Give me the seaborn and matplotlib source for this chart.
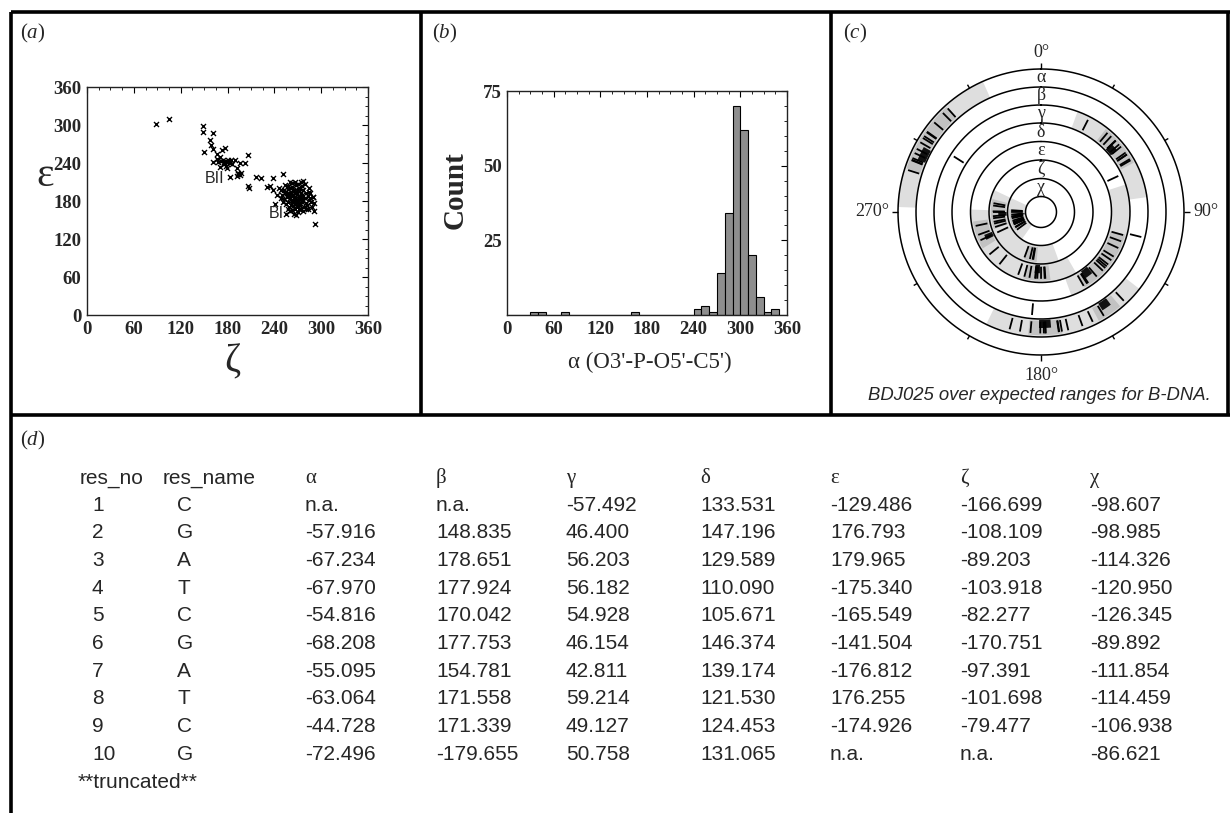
import numpy as np
import pandas as pd
import matplotlib
matplotlib.use("Agg")
import matplotlib.pyplot as plt
import seaborn as sns
from matplotlib.lines import Line2D
from matplotlib.ticker import MultipleLocator

# ---------------- data : panel (a)  epsilon vs zeta ----------------
zeta_vals = [88, 105.5, 149, 149, 161, 157, 158.5, 150, 162, 166, 172.5, 177, 170, 162, 168,
             174.5, 179, 183, 170, 179, 189.5, 196, 202, 206.5, 192, 194, 192, 183, 196, 216,
             222.5, 238.7, 251.5, 206, 208, 230, 234.5, 238.7, 243, 241, 260, 277, 290, 291,
             291, 292, 172, 176, 180, 167, 178, 186, 194, 197, 175, 184,
             262, 265, 268, 270, 272, 266, 260, 258, 275, 273, 269, 264, 261, 267, 271, 276,
             279, 281, 278, 274, 263, 259, 256, 254, 257, 263, 268, 272, 277, 280, 283, 284,
             282, 277, 270, 265, 260, 255, 252, 250, 253, 258, 262, 266, 270, 275, 285, 286,
             287, 280, 268, 271, 266, 264, 269, 273, 271, 267, 262, 276, 274, 259, 261, 257,
             249, 246, 248, 251, 255, 288, 284, 279, 274, 264, 258, 266, 272, 269, 276, 263,
             267, 260, 254, 283, 286, 290]
eps_vals = [302, 309.5, 299, 289, 288, 277, 268, 257, 262, 255, 260.5, 263, 250, 242, 242,
            245, 242, 239.5, 234, 231.5, 245, 239.5, 240.5, 252.5, 231.5, 224, 219.5, 218.5, 221, 218.5,
            216, 217, 222.5, 204, 200, 201.5, 204, 197.5, 189.5, 175.3, 210.5, 212, 186, 176.5,
            164.7, 143, 243, 238, 245, 246, 236, 238, 222, 224, 241, 244,
            190, 185, 182, 178, 186, 176, 184, 179, 181, 174, 170, 172, 195, 193, 196, 190,
            184, 177, 171, 167, 166, 171, 187, 193, 199, 202, 205, 200, 197, 192, 188, 181,
            173, 165, 163, 160, 164, 176, 183, 190, 197, 204, 208, 210, 207, 203, 194, 185,
            178, 168, 158, 168, 180, 188, 191, 188, 183, 186, 178, 178, 193, 189, 174, 168,
            198, 200, 185, 178, 160, 170, 200, 207, 210, 198, 193, 168, 175, 174, 185, 181,
            197, 200, 206, 167, 192, 186]

# ---------------- data : panel (b)  alpha histogram ----------------
alpha_bin_start = [30, 40, 70, 160, 240, 250, 260, 270, 280, 290, 300, 310, 320, 330, 340]
alpha_counts = [1, 1, 1, 1, 2, 3, 1, 14, 34, 70, 62, 20, 6, 1, 2]

# ---------------- data : panel (d)  torsion table ----------------
res_no = [1, 2, 3, 4, 5, 6, 7, 8, 9, 10]
res_name = ["C", "G", "A", "T", "C", "G", "A", "T", "C", "G"]
tor_alpha = [None, -57.916, -67.234, -67.970, -54.816, -68.208, -55.095, -63.064, -44.728, -72.496]
tor_beta = [None, 148.835, 178.651, 177.924, 170.042, 177.753, 154.781, 171.558, 171.339, -179.655]
tor_gamma = [-57.492, 46.400, 56.203, 56.182, 54.928, 46.154, 42.811, 59.214, 49.127, 50.758]
tor_delta = [133.531, 147.196, 129.589, 110.090, 105.671, 146.374, 139.174, 121.530, 124.453, 131.065]
tor_eps = [-129.486, 176.793, 179.965, -175.340, -165.549, -141.504, -176.812, 176.255, -174.926, None]
tor_zeta = [-166.699, -108.109, -89.203, -103.918, -82.277, -170.751, -97.391, -101.698, -79.477, None]
tor_chi = [-98.607, -98.985, -114.326, -120.950, -126.345, -89.892, -111.854, -114.459, -106.938, -86.621]

# ---------------- data : panel (c)  further residues read from the wheel ----------------
extra_alpha = [300, 310, 295, 318, 303]
extra_beta = [137, 185, 190, 195, 167, 160]
extra_gamma = [27, 185, 104, 40, 60]
extra_delta = [65, 115, 128, 150]
extra_eps = [250, 245, 258, 190, 200]
extra_zeta = [265, 270, 190, 200, 245]
extra_chi = [258, 265, 240, 250]
# expected ranges (degrees) : light, medium and core
range_light = {"α": [(272, 336)], "β": [(128, 206)], "γ": [(20, 82)], "δ": [(72, 160)],
               "ε": [(150, 272)], "ζ": [(160, 295)], "χ": [(215, 295)]}
range_mid = {"α": [(288, 318)], "β": [(140, 152), (170, 186)], "γ": [(38, 62)], "δ": [(105, 150)],
             "ε": [(172, 195), (238, 262)], "ζ": [(185, 200), (250, 285)], "χ": [(235, 275)]}
range_core = {"α": [(293, 299)], "β": [(143, 148), (175, 181)], "γ": [(46, 51)], "δ": [(140, 146)],
              "ε": [(181, 186), (243, 248)], "ζ": [(264, 270)], "χ": [(262, 266)]}

# ---------------- figure ----------------
sns.set_theme(style="white")
plt.rcParams["font.family"] = ["Liberation Serif", "DejaVu Sans"]
plt.rcParams["mathtext.fontset"] = "custom"
plt.rcParams["mathtext.rm"] = "Liberation Serif"
plt.rcParams["mathtext.it"] = "Liberation Serif:italic"

W, H = 1230, 813
fig = plt.figure(figsize=(W / 100, H / 100), dpi=100)
fig.patch.set_facecolor("white")


def box(l, t, r, b):
    return [l / W, 1 - b / H, (r - l) / W, (b - t) / H]


def ftext(x, y, s, **kw):
    fig.text(x / W, 1 - y / H, s, **kw)


def fline(x0, y0, x1, y1, lw=2.6):
    fig.add_artist(Line2D([x0 / W, x1 / W], [1 - y0 / H, 1 - y1 / H],
                          transform=fig.transFigure, color="black", lw=lw,
                          solid_capstyle="butt"))


def style_box(ax):
    for sp in ax.spines.values():
        sp.set_visible(True)
        sp.set_color("#222222")
        sp.set_linewidth(1.0)
    ax.tick_params(which="both", direction="in", top=True, right=True, color="black")
    ax.tick_params(which="major", length=4, width=0.8, pad=4)
    ax.tick_params(which="minor", length=2, width=0.6)
    plt.setp(ax.get_xticklabels(), family="Liberation Serif", weight="bold", size=13.5)
    plt.setp(ax.get_yticklabels(), family="Liberation Serif", weight="bold", size=13.5)
    ax.set_xlabel("")
    ax.set_ylabel("")


# ---- panel (a)
axa = fig.add_axes(box(87, 87, 368, 315))
df_a = pd.DataFrame({"zeta": zeta_vals, "eps": eps_vals})
sns.scatterplot(data=df_a, x="zeta", y="eps", marker="x", color="black", s=13,
                linewidth=1.0, ax=axa)
axa.set_xlim(0, 360)
axa.set_ylim(0, 360)
axa.set_xticks(range(0, 361, 60))
axa.set_yticks(range(0, 361, 60))
axa.xaxis.set_minor_locator(MultipleLocator(15))
axa.yaxis.set_minor_locator(MultipleLocator(15))
style_box(axa)
axa.text(164, 216, "BII", family="Liberation Sans", fontsize=11.5, ha="center", va="center")
axa.text(243, 160, "BI", family="Liberation Sans", fontsize=11.5, ha="center", va="center")
ftext(45, 176, "ε", fontsize=30, ha="center", va="center", family="Liberation Serif")
ftext(232, 362, "ζ", fontsize=28, ha="center", va="center", family="Liberation Serif")

# ---- panel (b)
axb = fig.add_axes(box(507, 91, 787, 315))
alpha_obs = np.repeat(np.array(alpha_bin_start, dtype=float) + 5, alpha_counts)
sns.histplot(x=alpha_obs, binwidth=10, binrange=(0, 360), color="#8e8e8e",
             edgecolor="black", linewidth=0.8, alpha=1.0, ax=axb)
axb.set_xlim(0, 360)
axb.set_ylim(0, 75)
axb.set_xticks(range(0, 361, 60))
axb.set_yticks([25, 50, 75])
axb.xaxis.set_minor_locator(MultipleLocator(15))
axb.yaxis.set_minor_locator(MultipleLocator(5))
style_box(axb)
ftext(455, 190, "Count", fontsize=21, weight="bold", rotation=90, ha="center",
      va="center", family="Liberation Serif")
ftext(650, 362, "α (O3'-P-O5'-C5')", fontsize=16.5, ha="center", va="center",
      family="Liberation Serif")

# ---- panel (c) polar wheel
cx, cy, half = 1041, 212, 180
axc = fig.add_axes(box(cx - half, cy - half, cx + half, cy + half), projection="polar")
axc.set_theta_zero_location("N")
axc.set_theta_direction(-1)
axc.set_ylim(0, half)
axc.axis("off")

ring_names = ["α", "β", "γ", "δ", "ε", "ζ", "χ"]
ring_edges = [143, 125, 107, 89, 70.5, 52, 33.5, 15.5]
ring_ticks = {
    "α": [v for v in tor_alpha if v is not None] + extra_alpha,
    "β": [v for v in tor_beta if v is not None] + extra_beta,
    "γ": [v for v in tor_gamma if v is not None] + extra_gamma,
    "δ": [v for v in tor_delta if v is not None] + extra_delta,
    "ε": [v for v in tor_eps if v is not None] + extra_eps,
    "ζ": [v for v in tor_zeta if v is not None] + extra_zeta,
    "χ": [v for v in tor_chi if v is not None] + extra_chi,
}


def rad(a):
    return np.deg2rad(np.mod(np.asarray(a, dtype=float), 360))


for i, nm in enumerate(ring_names):
    r_out, r_in = ring_edges[i], ring_edges[i + 1]
    w = r_out - r_in
    for (a0, a1) in range_light[nm]:
        axc.bar(rad((a0 + a1) / 2), w, width=np.deg2rad(a1 - a0), bottom=r_in,
                color="#dedede", edgecolor="none", align="center")
    for (a0, a1) in range_mid[nm]:
        axc.bar(rad((a0 + a1) / 2), w * 0.8, width=np.deg2rad(a1 - a0), bottom=r_in + w * 0.1,
                color="#c2c2c2", edgecolor="none", align="center")
    for (a0, a1) in range_core[nm]:
        axc.bar(rad((a0 + a1) / 2), w * 0.45, width=np.deg2rad(a1 - a0), bottom=r_in + w * 0.05,
                color="#111111", edgecolor="none", align="center")
    axc.vlines(rad(ring_ticks[nm]), r_in + w * 0.15, r_in + w * 0.8, color="black", lw=1.3)
    axc.text(0, (r_in + r_out) / 2, nm, ha="center", va="center", fontsize=13,
             family="Liberation Serif")

theta_c = np.linspace(0, 2 * np.pi, 500)
for r in ring_edges:
    axc.plot(theta_c, np.full_like(theta_c, r), color="black", lw=1.1)
minor_dirs = [a for a in range(0, 360, 30) if a % 90 != 0]
axc.vlines(rad(minor_dirs), 143, 147, color="black", lw=1.0)
axc.vlines(rad([0, 90, 180, 270]), 143, 149, color="black", lw=1.0)
axc.text(0, 151, "0°", ha="center", va="bottom", fontsize=13, family="Liberation Serif")
axc.text(rad(90), 152, "90°", ha="left", va="center", fontsize=13, family="Liberation Serif")
axc.text(rad(180), 155, "180°", ha="center", va="top", fontsize=13, family="Liberation Serif")
axc.text(rad(270), 152, "270°", ha="right", va="center", fontsize=13, family="Liberation Serif")
ftext(1039, 395, "BDJ025 over expected ranges for B-DNA.", fontsize=13.3, style="italic",
      ha="center", va="center", family="Liberation Sans")

# ---- panel labels
for (x, y, s) in [(20, 33, "a"), (432, 33, "b"), (843, 33, "c"), (20, 440, "d")]:
    ftext(x, y, "($\\mathit{" + s + "}$)", fontsize=15, ha="left", va="center",
          family="Liberation Serif")

# ---- panel (d) table
col_x = [80, 163, 305, 436, 566, 700, 830, 960, 1090]
headers = ["res_no", "res_name", "α", "β", "γ", "δ", "ε", "ζ", "χ"]
header_y = 478
row_y0, row_dy = 505, 27.7
fs_tab = 15
for j, h in enumerate(headers):
    fam = "Liberation Sans" if j < 2 else "Liberation Serif"
    ftext(col_x[j], header_y, h, fontsize=fs_tab, ha="left", va="center", family=fam)


def fmt(v):
    return "n.a." if v is None else f"{v:.3f}"


cols = [tor_alpha, tor_beta, tor_gamma, tor_delta, tor_eps, tor_zeta, tor_chi]
for i in range(len(res_no)):
    y = row_y0 + i * row_dy
    ftext(col_x[0] + 12, y, str(res_no[i]), fontsize=fs_tab, ha="left", va="center",
          family="Liberation Sans")
    ftext(col_x[1] + 14, y, res_name[i], fontsize=fs_tab, ha="left", va="center",
          family="Liberation Sans")
    for j, c in enumerate(cols):
        ftext(col_x[j + 2], y, fmt(c[i]), fontsize=fs_tab, ha="left", va="center",
              family="Liberation Sans")
ftext(col_x[0] - 2, row_y0 + 10 * row_dy, "**truncated**", fontsize=fs_tab, ha="left",
      va="center", family="Liberation Sans")

# ---- panel frames
fline(11, 12, 1230, 12)
fline(11, 12, 11, 813)
fline(11, 415, 1230, 415)
fline(421, 12, 421, 415)
fline(831, 12, 831, 415)
fline(1228, 12, 1228, 415)

fig.savefig("out.png", dpi=100, facecolor="white")
